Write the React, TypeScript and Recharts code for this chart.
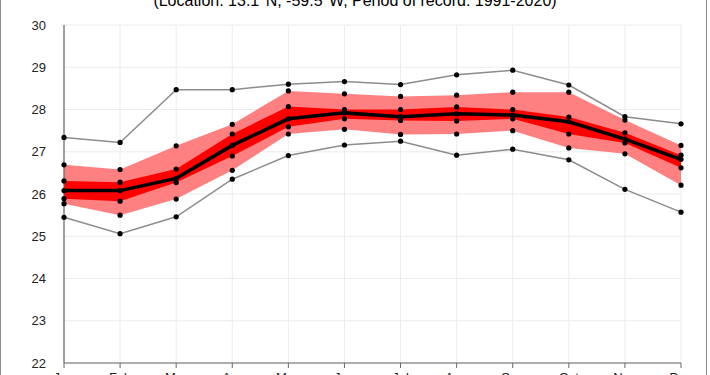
import React from 'react';
import { ComposedChart, Area, Line, XAxis, YAxis, CartesianGrid } from 'recharts';

const months = ['Jan', 'Feb', 'Mar', 'Apr', 'May', 'Jun', 'Jul', 'Aug', 'Sep', 'Oct', 'Nov', 'Dec'];
const maxT = [27.34, 27.22, 28.47, 28.47, 28.6, 28.66, 28.59, 28.82, 28.93, 28.58, 27.83, 27.66];
const p90 = [26.69, 26.58, 27.14, 27.65, 28.44, 28.37, 28.31, 28.34, 28.41, 28.41, 27.75, 27.15];
const p75 = [26.31, 26.28, 26.59, 27.42, 28.07, 28.0, 28.0, 28.06, 28.0, 27.82, 27.45, 26.92];
const median = [26.08, 26.08, 26.37, 27.15, 27.78, 27.92, 27.83, 27.9, 27.87, 27.71, 27.3, 26.82];
const p25 = [25.89, 25.83, 26.27, 26.9, 27.59, 27.78, 27.74, 27.73, 27.78, 27.42, 27.21, 26.62];
const p10 = [25.77, 25.5, 25.88, 26.56, 27.42, 27.53, 27.41, 27.42, 27.5, 27.09, 26.95, 26.21];
const minT = [25.45, 25.06, 25.46, 26.35, 26.91, 27.16, 27.25, 26.92, 27.06, 26.81, 26.11, 25.57];
const yTicks = [22, 23, 24, 25, 26, 27, 28, 29, 30];
const title = '(Location: 13.1°N, -59.5°W, Period of record: 1991-2020)';

const data = months.map((m, i) => ({
  month: m,
  maxT: maxT[i],
  p90: p90[i],
  p75: p75[i],
  median: median[i],
  p25: p25[i],
  p10: p10[i],
  minT: minT[i],
  outer: [p10[i], p90[i]],
  inner: [p25[i], p75[i]],
}));

const FONT = '"Liberation Sans", Arial, sans-serif';
const dotStyle = { r: 2.6, fill: '#000', stroke: 'none' };

export default function App() {
  return (
    <div style={{ position: 'absolute', left: 0, top: 0, width: 710, height: 375, overflow: 'hidden', background: '#fff' }}>
      <div
        style={{
          position: 'absolute',
          left: 0,
          top: -20,
          width: 707,
          height: 420,
          borderLeft: '1px solid #8c8c8c',
          borderRight: '1px solid #8c8c8c',
          boxSizing: 'border-box',
        }}
      />
      <div
        style={{
          position: 'absolute',
          left: 0,
          top: -8,
          width: 710,
          textAlign: 'center',
          fontFamily: FONT,
          fontSize: 16,
          lineHeight: '18px',
          color: '#000',
          whiteSpace: 'nowrap',
        }}
      >
        {title}
      </div>
      <div style={{ position: 'absolute', left: 0, top: 0 }}>
        <ComposedChart width={710} height={375} data={data} margin={{ top: 25, right: 29, bottom: 0, left: 8 }}>
          <CartesianGrid stroke="#ececec" strokeWidth={1} />
          <XAxis
            dataKey="month"
            scale="point"
            padding={{ left: 0, right: 0 }}
            height={12}
            tickSize={5}
            tickMargin={5}
            tickLine={{ stroke: '#666' }}
            axisLine={{ stroke: '#666', strokeWidth: 1.2 }}
            tick={{ fontSize: 13, fill: '#222', fontFamily: FONT }}
            interval={0}
          />
          <XAxis xAxisId="top" orientation="top" dataKey="month" scale="point" height={0} tick={false} tickLine={false} axisLine={{ stroke: '#666', strokeWidth: 1.2 }} />
          <YAxis
            domain={[22, 30]}
            ticks={yTicks}
            width={56}
            tickLine={false}
            tickMargin={12}
            axisLine={{ stroke: '#666', strokeWidth: 1.2 }}
            tick={{ fontSize: 13, fill: '#222', fontFamily: FONT }}
            interval={0}
          />
          <YAxis yAxisId="right" orientation="right" domain={[22, 30]} width={0} tick={false} tickLine={false} axisLine={{ stroke: '#666', strokeWidth: 1.2 }} />
          <Area dataKey="outer" fill="#ff8080" fillOpacity={1} stroke="none" isAnimationActive={false} dot={false} activeDot={false} />
          <Area dataKey="inner" fill="#ff0000" fillOpacity={1} stroke="none" isAnimationActive={false} dot={false} activeDot={false} />
          <Line dataKey="maxT" stroke="#8c8c8c" strokeWidth={1.5} dot={dotStyle} activeDot={false} isAnimationActive={false} />
          <Line dataKey="minT" stroke="#8c8c8c" strokeWidth={1.5} dot={dotStyle} activeDot={false} isAnimationActive={false} />
          <Line dataKey="p90" stroke="none" dot={dotStyle} activeDot={false} isAnimationActive={false} />
          <Line dataKey="p75" stroke="none" dot={dotStyle} activeDot={false} isAnimationActive={false} />
          <Line dataKey="p25" stroke="none" dot={dotStyle} activeDot={false} isAnimationActive={false} />
          <Line dataKey="p10" stroke="none" dot={dotStyle} activeDot={false} isAnimationActive={false} />
          <Line dataKey="median" stroke="#000" strokeWidth={3.5} dot={dotStyle} activeDot={false} isAnimationActive={false} />
        </ComposedChart>
      </div>
    </div>
  );
}
